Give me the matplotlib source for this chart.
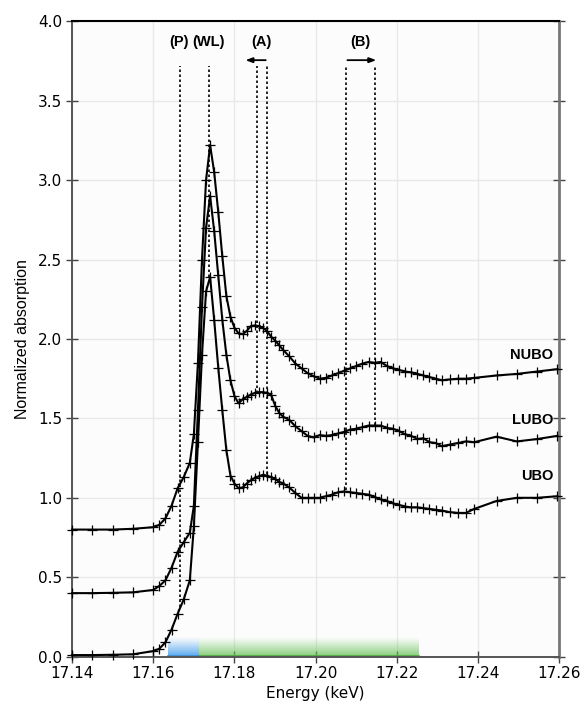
import numpy as np
import matplotlib
matplotlib.use("Agg")
import matplotlib.pyplot as plt
from matplotlib.colors import to_rgb

# ---------------- data ----------------
energy = [17.140, 17.145, 17.150, 17.155, 17.160, 17.1615, 17.163, 17.1645, 17.166,
          17.1675, 17.169, 17.170, 17.171, 17.172, 17.173, 17.174, 17.175, 17.176,
          17.177, 17.178, 17.179, 17.180, 17.181, 17.182, 17.183, 17.184, 17.185,
          17.186, 17.187, 17.188, 17.189, 17.190, 17.191, 17.192, 17.1935, 17.195,
          17.1965, 17.198, 17.1995, 17.201, 17.2025, 17.204, 17.2055, 17.207, 17.2085,
          17.210, 17.2115, 17.213, 17.2145, 17.216, 17.2175, 17.219, 17.2205, 17.222,
          17.2235, 17.225, 17.2265, 17.228, 17.2295, 17.231, 17.233, 17.235, 17.237,
          17.239, 17.2445, 17.2495, 17.2545, 17.2595]

ubo = [0.01, 0.01, 0.012, 0.015, 0.035, 0.05, 0.09, 0.17, 0.27,
       0.36, 0.48, 0.82, 1.35, 1.90, 2.30, 2.39, 2.12, 1.82,
       1.55, 1.30, 1.14, 1.09, 1.06, 1.065, 1.09, 1.11, 1.125,
       1.135, 1.145, 1.14, 1.13, 1.12, 1.10, 1.09, 1.065, 1.03,
       1.00, 1.00, 1.00, 1.00, 1.01, 1.02, 1.035, 1.04, 1.035,
       1.03, 1.025, 1.02, 1.005, 0.99, 0.98, 0.965, 0.955, 0.945,
       0.94, 0.94, 0.935, 0.93, 0.925, 0.92, 0.91, 0.905, 0.905,
       0.93, 0.98, 1.00, 1.00, 1.01]

lubo = [0.40, 0.40, 0.402, 0.405, 0.42, 0.445, 0.48, 0.56, 0.66,
        0.72, 0.78, 0.95, 1.55, 2.20, 2.70, 2.90, 2.68, 2.40,
        2.12, 1.90, 1.74, 1.64, 1.595, 1.62, 1.635, 1.65, 1.66,
        1.665, 1.665, 1.66, 1.65, 1.58, 1.535, 1.51, 1.49, 1.45,
        1.42, 1.39, 1.38, 1.395, 1.39, 1.395, 1.405, 1.415, 1.43,
        1.435, 1.445, 1.455, 1.455, 1.455, 1.44, 1.435, 1.42, 1.40,
        1.39, 1.37, 1.375, 1.35, 1.345, 1.325, 1.335, 1.345, 1.355,
        1.35, 1.385, 1.355, 1.37, 1.39]

nubo = [0.80, 0.80, 0.80, 0.805, 0.815, 0.83, 0.87, 0.95, 1.06,
        1.13, 1.22, 1.40, 1.85, 2.50, 3.00, 3.22, 3.05, 2.80,
        2.52, 2.27, 2.14, 2.07, 2.035, 2.03, 2.05, 2.08, 2.085,
        2.08, 2.07, 2.05, 2.015, 1.99, 1.96, 1.93, 1.89, 1.845,
        1.815, 1.785, 1.765, 1.75, 1.755, 1.77, 1.785, 1.80, 1.815,
        1.83, 1.845, 1.855, 1.85, 1.855, 1.83, 1.815, 1.805, 1.795,
        1.79, 1.78, 1.77, 1.76, 1.75, 1.74, 1.745, 1.75, 1.75,
        1.755, 1.77, 1.78, 1.795, 1.81]

series_names = ["UBO", "LUBO", "NUBO"]
series_label_y = [1.135, 1.49, 1.90]

# vertical feature markers
feature_x = [17.1666, 17.1737, 17.1855, 17.1880, 17.2074, 17.2145]
feature_bottom = [0.31, 2.39, 1.66, 1.15, 1.05, 1.46]
feature_top = 3.72
feature_labels = ["(P)", "(WL)", "(A)", "(B)"]
feature_label_x = [17.1664, 17.1737, 17.1867, 17.2109]
feature_label_y = 3.87
arrow_A = (17.1877, 17.1827)
arrow_B = (17.2078, 17.2149)
arrow_y = 3.755

# colour bands along the energy axis
band_blue = (17.1636, 17.1712)
band_green = (17.1712, 17.2253)
band_height = 0.12

xticks = [17.14, 17.16, 17.18, 17.20, 17.22, 17.24, 17.26]
yticks = [0.0, 0.5, 1.0, 1.5, 2.0, 2.5, 3.0, 3.5, 4.0]

# ---------------- plot ----------------
fig = plt.figure(figsize=(5.82, 7.08), dpi=100)
ax = fig.add_axes([0.1237, 0.0725, 0.9613 - 0.1237, 0.970 - 0.0725])
ax.set_facecolor("#fcfcfc")

ax.set_xlim(17.14, 17.26)
ax.set_ylim(0, 4.0)
ax.set_xticks(xticks)
ax.set_xticklabels([f"{t:.2f}" for t in xticks])
ax.set_yticks(yticks)
ax.set_yticklabels([f"{t:.1f}" for t in yticks])
ax.grid(True, color="#e8e8e8", linewidth=1.0, zorder=0)
ax.set_axisbelow(True)

# gradient bands
def band(x0, x1, color, a0):
    rgb = np.array(to_rgb(color))
    n = 64
    img = np.zeros((n, 2, 4))
    img[..., :3] = rgb
    alpha = a0 * np.linspace(1.0, 0.0, n) ** 1.1
    img[..., 3] = alpha[:, None]
    ax.imshow(img, extent=(x0, x1, 0, band_height), origin="lower",
              aspect="auto", zorder=1, interpolation="bilinear")

band(band_blue[0], band_blue[1], "#4aa3ee", 0.95)
band(band_green[0], band_green[1], "#64c052", 0.8)
ax.plot([band_green[0], band_green[1]], [0.004, 0.004], color="#4fa83e", lw=1.2, zorder=1.5)
ax.plot([band_blue[0], band_blue[1]], [0.004, 0.004], color="#3d8fd6", lw=1.2, zorder=1.5)

for y in (ubo, lubo, nubo):
    ax.plot(energy, y, color="black", lw=1.5, marker="+", ms=6.5, mew=0.9,
            zorder=3, clip_on=False)

for x, b in zip(feature_x, feature_bottom):
    ax.plot([x, x], [b, feature_top], color="black", lw=1.2,
            linestyle=(0, (1.5, 1.5)), zorder=2)

lab_font = dict(family=["Liberation Sans", "DejaVu Sans"], fontweight="bold", fontsize=10.5)
for lx, lt in zip(feature_label_x, feature_labels):
    ax.text(lx, feature_label_y, lt, ha="center", va="center", **lab_font)

for (x0, x1) in (arrow_A, arrow_B):
    ax.annotate("", xy=(x1, arrow_y), xytext=(x0, arrow_y),
                arrowprops=dict(arrowstyle="-|>,head_length=0.4,head_width=0.15",
                                color="black", lw=1.3, shrinkA=0, shrinkB=0))

for name, ly in zip(series_names, series_label_y):
    ax.text(17.2585, ly, name, ha="right", va="center", **lab_font)

# spines / ticks
for s in ("left", "bottom", "right"):
    ax.spines[s].set_color("#555555")
    ax.spines[s].set_linewidth(1.4)
ax.spines["right"].set_color("#777777")
ax.spines["right"].set_linewidth(2.0)
ax.spines["top"].set_color("black")
ax.spines["top"].set_linewidth(1.5)
ax.tick_params(axis="both", direction="inout", length=8, width=1.0,
               color="#444444", labelsize=11, pad=3)
ax.tick_params(axis="y", right=True, labelright=False)

ax.set_xlabel("Energy (keV)", fontsize=11, labelpad=3)
ax.set_ylabel("Normalized absorption", fontsize=11.5,
              family=["Liberation Sans Narrow", "Liberation Sans", "DejaVu Sans"],
              labelpad=6)

fig.savefig("out.png", dpi=100)
